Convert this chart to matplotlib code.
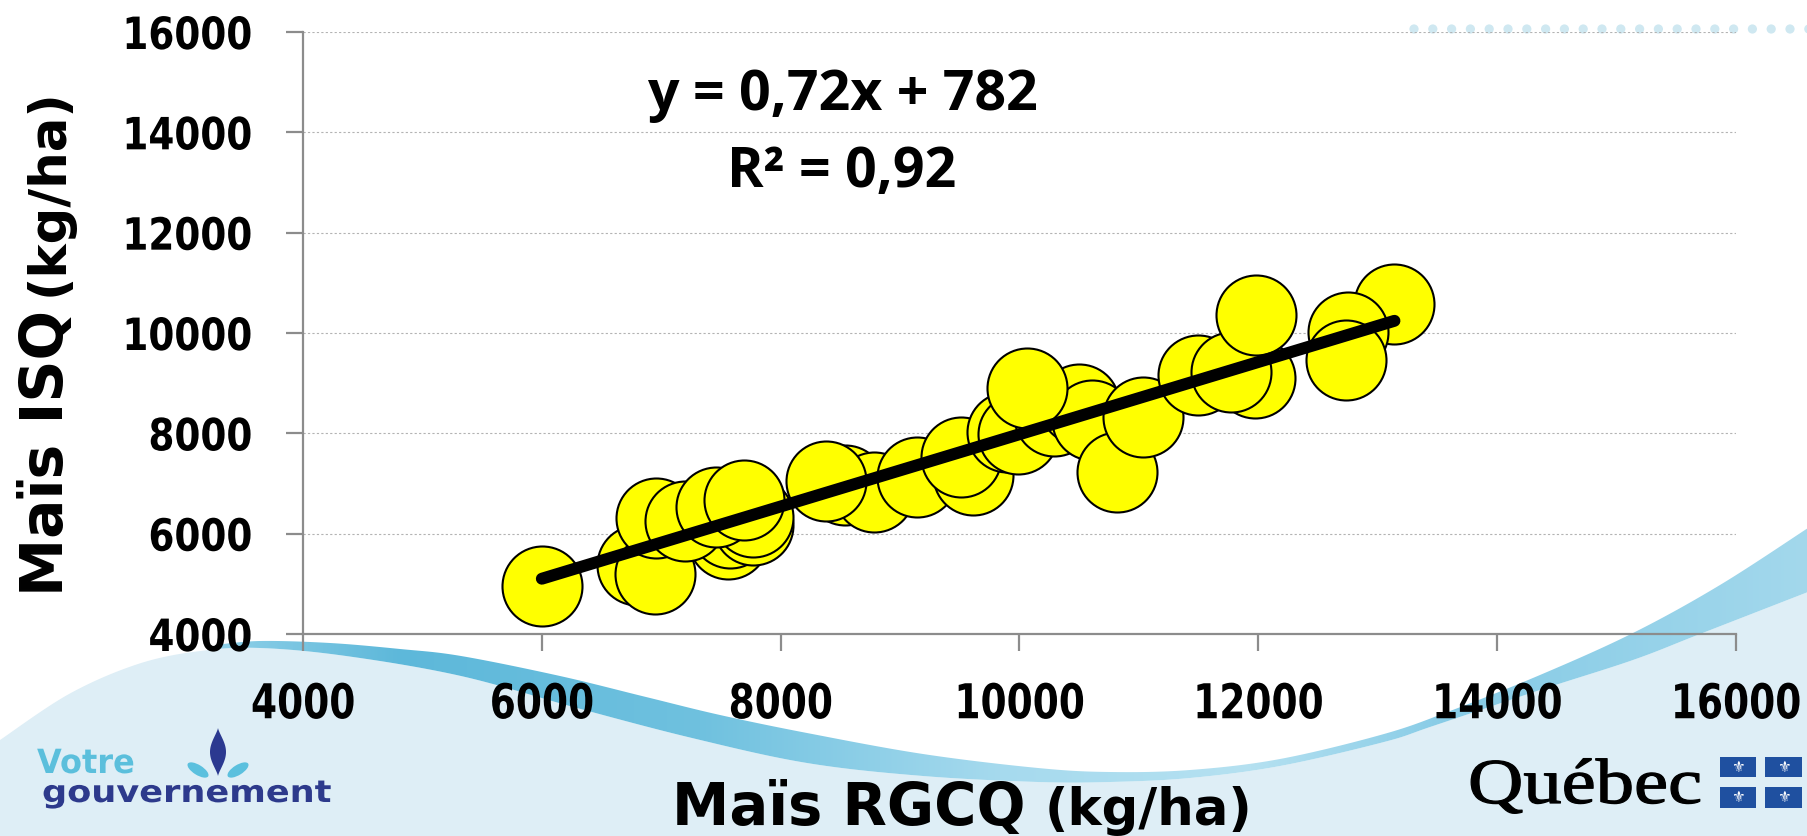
import numpy as np
import matplotlib
matplotlib.use("Agg")
import matplotlib.pyplot as plt
from matplotlib.patheffects import AbstractPathEffect
from matplotlib.transforms import Affine2D
from matplotlib.patches import Polygon, Rectangle, Circle, Ellipse

# ---------------- data ----------------
rgcq_x = [6000, 6800, 7560, 7575, 7770, 7770, 6950, 6960, 7195, 7460, 7690,
          8540, 8780, 8380, 9140, 9610, 9510, 9895, 9985, 10285, 10495, 10610,
          10060, 10815, 11035, 11495, 11970, 11770, 11980, 13140, 12750, 12735]
isq_y = [4950, 5380, 5890, 6110, 6180, 6335, 5190, 6310, 6250, 6535, 6670,
         6965, 6840, 7050, 7135, 7170, 7530, 8020, 7990, 8350, 8590, 8275,
         8900, 7220, 8320, 9155, 9100, 9225, 10360, 10580, 10025, 9460]
trend_slope = 0.72
trend_intercept = 782
x_ticks = [4000, 6000, 8000, 10000, 12000, 14000, 16000]
y_ticks = [4000, 6000, 8000, 10000, 12000, 14000, 16000]
x_tick_labels = ["4000", "6000", "8000", "10000", "12000", "14000", "16000"]
y_tick_labels = ["4000", "6000", "8000", "10000", "12000", "14000", "16000"]
eq_line1 = "y = 0,72x + 782"
eq_line2 = "R² = 0,92"
x_title_main, x_title_unit = "Maïs RGCQ", "(kg/ha)"
y_title_main, y_title_unit = "Maïs ISQ", "(kg/ha)"

W, H = 1808, 836
fig = plt.figure(figsize=(W / 100, H / 100), dpi=100)


class Stretch(AbstractPathEffect):
    """Scale text glyphs in their own frame (text stays real text)."""
    def __init__(self, sx=1.0, sy=1.0, anchor="left", stroke=0.0):
        super().__init__()
        self.sx, self.sy, self.anchor, self.stroke = sx, sy, anchor, stroke

    def draw_path(self, renderer, gc, tpath, affine, rgbFace=None):
        ext = tpath.get_extents()
        if self.anchor == "center":
            x0 = 0.5 * (ext.x0 + ext.x1)
        elif self.anchor == "right":
            x0 = ext.x1
        else:
            x0 = 0.0
        pre = Affine2D().translate(-x0, 0).scale(self.sx, self.sy).translate(x0, 0)
        if self.stroke > 0 and rgbFace is not None:
            gc0 = renderer.new_gc()
            gc0.copy_properties(gc)
            gc0.set_linewidth(self.stroke)
            gc0.set_foreground(rgbFace)
            gc0.set_joinstyle("round")
            renderer.draw_path(gc0, tpath, pre + affine, rgbFace)
            gc0.restore()
        else:
            renderer.draw_path(gc, tpath, pre + affine, rgbFace)


def fx(x):
    return x / W


def fy(y):
    return 1 - y / H


def smooth(pts, n=24):
    P = np.array(pts, float)
    P = np.vstack([P[0], P, P[-1]])
    out = []
    t = np.linspace(0, 1, n, endpoint=False)[:, None]
    for i in range(1, len(P) - 2):
        p0, p1, p2, p3 = P[i - 1], P[i], P[i + 1], P[i + 2]
        out.append(0.5 * ((2 * p1) + (-p0 + p2) * t
                          + (2 * p0 - 5 * p1 + 4 * p2 - p3) * t ** 2
                          + (-p0 + 3 * p1 - 3 * p2 + p3) * t ** 3))
    out.append(P[-2][None, :])
    return np.vstack(out)


# ---------------- background decoration ----------------
bg = fig.add_axes([0, 0, 1, 1], zorder=0)
bg.axis("off")

L_pts = [(0, 740), (69, 694), (138, 664), (200, 651), (260, 648), (346, 656),
         (461, 676), (577, 708), (692, 738), (807, 763), (923, 776), (1038, 782),
         (1110, 782), (1190, 778), (1280, 766), (1384, 742), (1433, 726),
         (1540, 690), (1633, 660), (1700, 634), (1808, 592)]
U_pts = [(215, 645), (260, 641), (330, 643), (400, 649), (461, 656),
         (560, 676), (646, 697), (720, 715), (807, 733), (923, 754), (1038, 768),
         (1110, 772), (1190, 770), (1280, 759), (1384, 734), (1450, 711),
         (1540, 675), (1633, 633), (1720, 585), (1808, 528)]
L_s = smooth(L_pts)
U_s = smooth(U_pts)

light = Polygon(np.vstack([L_s, [(W, H), (0, H)]]), closed=True,
                facecolor="#deeef6", edgecolor="none", zorder=1)
bg.add_patch(light)

L_rib = L_s[L_s[:, 0] >= 215]
ribbon = Polygon(np.vstack([U_s, L_rib[::-1]]), closed=True, facecolor="none",
                 edgecolor="none", zorder=2)
bg.add_patch(ribbon)
kx = [0, 215, 400, 700, 1000, 1250, 1450, 1808]
kc = ["#8fd0e8", "#8fd0e8", "#5db8da", "#6fc1df", "#a6daee", "#b5e1f1", "#86cbe6", "#a3d8ec"]
rgb = np.array([matplotlib.colors.to_rgb(c) for c in kc])
xx = np.arange(W)
grad = np.stack([np.interp(xx, kx, rgb[:, i]) for i in range(3)], axis=-1)[None, :, :]
im = bg.imshow(grad, extent=(0, W, H, 0), aspect="auto", zorder=2)
im.set_clip_path(ribbon)
bg.set_xlim(0, W)
bg.set_ylim(H, 0)

for xk in np.arange(1414, 1815, 18.8):
    bg.add_patch(Circle((xk, 29), 4.6, facecolor="#cfe8f1", edgecolor="none", zorder=1))

# "Votre gouvernement" logo
bg.text(37, 773, "Votre", color="#5bbfdc", fontsize=24, fontweight="bold",
        ha="left", va="baseline", zorder=5, path_effects=[Stretch(sx=0.96)])
bg.text(42, 802, "gouvernement", color="#2d3a8c", fontsize=22,
        fontweight="bold", ha="left", va="baseline", zorder=5,
        path_effects=[Stretch(sx=1.15)])
tt = np.linspace(0, 1, 40)
lens = np.vstack([np.column_stack([218 + 8 * np.sin(np.pi * tt) ** 1.3, 728 + 48 * tt]),
                  np.column_stack([218 - 8 * np.sin(np.pi * tt[::-1]) ** 1.3, 728 + 48 * tt[::-1]])])
bg.add_patch(Polygon(lens, closed=True, facecolor="#2b3990", edgecolor="none", zorder=5))
bg.add_patch(Ellipse((198, 770), 24, 10, angle=32, facecolor="#5bc0de", edgecolor="none", zorder=5))
bg.add_patch(Ellipse((238, 770), 24, 10, angle=-32, facecolor="#5bc0de", edgecolor="none", zorder=5))

# Québec logo
bg.text(1468, 803, "Québec", family="Liberation Serif", fontsize=46, color="black",
        ha="left", va="baseline", zorder=5, path_effects=[Stretch(sx=1.2, stroke=0.9)])
for (rx, ry, rw, rh) in [(1720, 757, 36, 20), (1765, 757, 37, 20),
                         (1720, 787, 36, 21), (1765, 787, 37, 21)]:
    bg.add_patch(Rectangle((rx, ry), rw, rh, facecolor="#1f50a0", edgecolor="none", zorder=5))
    bg.text(rx + rw / 2, ry + rh / 2, "⚜", color="white", fontsize=11,
            ha="center", va="center", zorder=6, family="DejaVu Sans")

# ---------------- main chart ----------------
ax = fig.add_axes([fx(303), fy(634), (1736 - 303) / W, (634 - 32) / H], zorder=2)
ax.patch.set_alpha(0)
ax.set_xlim(4000, 16000)
ax.set_ylim(4000, 16000)

ax.scatter(rgcq_x, isq_y, s=3318, c="#FFFF00", edgecolors="black",
           linewidths=1.5, zorder=3, clip_on=False)
xs = np.array([min(rgcq_x), max(rgcq_x)], dtype=float)
ax.plot(xs, trend_slope * xs + trend_intercept, color="black", lw=8.6,
        solid_capstyle="round", zorder=4)

for s in ["top", "right"]:
    ax.spines[s].set_visible(False)
for s in ["left", "bottom"]:
    ax.spines[s].set_color("#8c8c8c")
    ax.spines[s].set_linewidth(1.6)

ax.set_xticks(x_ticks)
ax.set_xticklabels(x_tick_labels)
ax.set_yticks(y_ticks)
ax.set_yticklabels(y_tick_labels)
ax.tick_params(axis="both", direction="out", length=12, width=1.6, color="#8c8c8c")
ax.tick_params(axis="x", pad=28.5, labelsize=27)
ax.tick_params(axis="y", pad=24, labelsize=32)
for lab in ax.get_xticklabels():
    lab.set_fontweight("bold")
    lab.set_path_effects([Stretch(sx=1.0, sy=1.28, anchor="center")])
for lab in ax.get_yticklabels():
    lab.set_fontweight("bold")
    lab.set_path_effects([Stretch(sx=0.84, anchor="right")])

ax.yaxis.grid(True, color="#b3b3b3", linestyle=(0, (2, 2)), linewidth=0.8)
ax.set_axisbelow(True)

# axis titles
fig.text(fx(672), fy(825), x_title_main, fontsize=41.5, fontweight="bold",
         ha="left", va="baseline")
fig.text(fx(1045), fy(825), x_title_unit, fontsize=37, fontweight="bold",
         ha="left", va="baseline")
fig.text(fx(63), fy(596), y_title_main, fontsize=42, fontweight="bold",
         rotation=90, rotation_mode="anchor", ha="left", va="baseline")
fig.text(fx(63), fy(296), y_title_unit, fontsize=37, fontweight="bold",
         rotation=90, rotation_mode="anchor", ha="left", va="baseline")

# regression equation
fig.text(fx(842), fy(110), eq_line1, fontsize=40, family="Open Sans", fontweight="bold",
         ha="center", va="baseline")
fig.text(fx(842), fy(187), eq_line2, fontsize=40, family="Open Sans", fontweight="bold",
         ha="center", va="baseline")

fig.savefig("out.png", dpi=100)
